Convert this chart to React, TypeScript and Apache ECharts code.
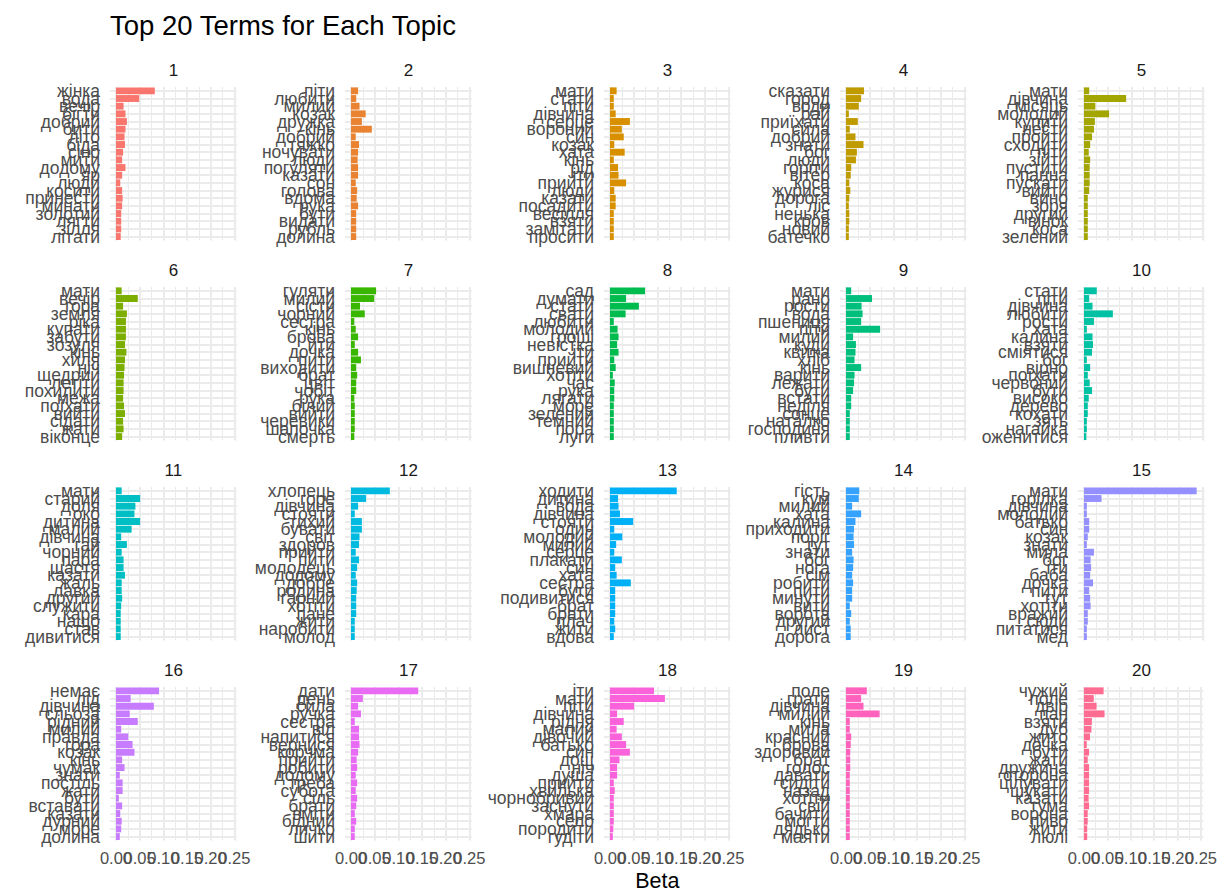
import React, { useEffect, useRef } from "react";
import * as echarts from "echarts";

const TOPICS = ["1","2","3","4","5","6","7","8","9","10","11","12","13","14","15","16","17","18","19","20"];

const TERMS_1 = ["жінка","вода","вечір","бігти","добрий","бити","літо","біда","сіно","мити","додому","яр","люди","косити","принести","минати","золотий","лягти","зілля","літати"];
const BETA_1 = [0.082,0.049,0.016,0.020,0.023,0.020,0.018,0.019,0.015,0.013,0.020,0.013,0.009,0.013,0.014,0.013,0.011,0.011,0.011,0.010];
const TERMS_2 = ["піти","любити","милий","козак","дружка","кінь","добрий","тяжко","ночувати","люди","погуляти","казати","сон","голова","вдома","рука","бути","видати","рубль","долина"];
const BETA_2 = [0.015,0.011,0.018,0.031,0.023,0.044,0.010,0.017,0.015,0.014,0.015,0.015,0.010,0.013,0.012,0.015,0.011,0.011,0.011,0.011];
const TERMS_3 = ["мати","стати","піти","дівчина","серце","вороний","син","козак","хата","кінь","рід","іти","прийти","люди","казати","посадити","весілля","взяти","замітати","просити"];
const BETA_3 = [0.014,0.008,0.008,0.012,0.042,0.025,0.029,0.009,0.031,0.008,0.017,0.018,0.034,0.009,0.012,0.012,0.008,0.008,0.008,0.008];
const TERMS_4 = ["сказати","город","води","рай","приїхати","сила","добрий","знати","бог","люди","горіти","вітер","коса","журися","дорога","ліс","ненька","кров","новий","батечко"];
const BETA_4 = [0.038,0.032,0.027,0.006,0.025,0.008,0.020,0.037,0.023,0.021,0.011,0.010,0.007,0.009,0.007,0.006,0.007,0.007,0.006,0.006];
const TERMS_5 = ["мати","дівчина","місяць","молодий","купити","нести","пройти","сходити","піти","зійти","пустити","панна","пускати","вийти","вино","зоря","другий","вінок","коса","зелений"];
const BETA_5 = [0.011,0.089,0.024,0.053,0.023,0.021,0.017,0.013,0.010,0.013,0.012,0.012,0.012,0.011,0.008,0.008,0.008,0.008,0.008,0.008];
const TERMS_6 = ["мати","вечір","гора","земля","ріка","купати","забути","зозуля","кінь","хиля","ніч","щедрий","летіти","похилити","межа","поїхати","вийти","сідати","жати","віконце"];
const BETA_6 = [0.012,0.046,0.015,0.023,0.021,0.021,0.021,0.019,0.022,0.019,0.018,0.017,0.016,0.016,0.015,0.017,0.019,0.015,0.016,0.013];
const TERMS_7 = ["гуляти","милий","сісти","чорний","сестра","кінь","брова","йти","дочка","пити","виходити","брат","цвіт","чобіт","рука","білий","вийти","черевики","шапочка","смерть"];
const BETA_7 = [0.053,0.049,0.019,0.029,0.007,0.010,0.015,0.008,0.015,0.021,0.011,0.013,0.011,0.011,0.007,0.008,0.008,0.008,0.008,0.007];
const TERMS_8 = ["сад","думати","стати","свати","любити","молодий","гроші","невістка","іти","прийти","вишневий","хотіти","час","рука","лягати","море","зелений","темний","пора","луги"];
const BETA_8 = [0.074,0.034,0.061,0.033,0.008,0.016,0.018,0.015,0.018,0.009,0.012,0.006,0.010,0.009,0.009,0.008,0.008,0.008,0.008,0.008];
const TERMS_9 = ["мати","рано","рости","вода","пшениця","піти","милий","куди","квітка","хліб","кінь","варити","лежати","бути","встати","неділя","сонце","наталко","господиня","пливти"];
const BETA_9 = [0.011,0.055,0.033,0.035,0.032,0.072,0.015,0.021,0.020,0.018,0.032,0.018,0.017,0.015,0.011,0.011,0.008,0.008,0.008,0.008];
const TERMS_10 = ["стати","піти","дівчина","любити","рости","хата","калина","взяти","сміятися","бог","вірно","поїхати","червоний","бути","високо","дерево","кохати","зять","нагайка","оженитися"];
const BETA_10 = [0.027,0.011,0.018,0.061,0.021,0.006,0.018,0.019,0.017,0.006,0.013,0.008,0.012,0.017,0.010,0.008,0.008,0.006,0.006,0.005];
const TERMS_11 = ["мати","старий","доля","око","дитина","малий","дівчина","гай","чорний","пара","щастя","казати","жаль","лавка","другий","служити","кара","нащо","став","дивитися"];
const BETA_11 = [0.012,0.051,0.041,0.039,0.051,0.033,0.011,0.023,0.012,0.016,0.016,0.019,0.012,0.012,0.013,0.011,0.010,0.010,0.010,0.010];
const TERMS_12 = ["хлопець","горе","дівчина","стояти","тихий","бувати","світ","здоров","прийти","пити","молодець","додому","добре","родина","гарний","хотіти","пане","жити","наробити","молод"];
const BETA_12 = [0.082,0.032,0.015,0.008,0.023,0.023,0.018,0.017,0.010,0.017,0.013,0.010,0.013,0.012,0.011,0.011,0.011,0.008,0.008,0.008];
const TERMS_13 = ["ходити","дитина","вода","дівчина","стояти","один","молодий","милий","серце","плакати","син","хата","сестра","бути","подивитися","брат","брати","плач","жити","вдова"];
const BETA_13 = [0.141,0.017,0.018,0.021,0.049,0.009,0.026,0.013,0.009,0.025,0.011,0.014,0.044,0.011,0.011,0.011,0.011,0.009,0.011,0.008];
const TERMS_14 = ["гість","кум","милий","хата","калина","приходити","поріг","тут","знати","бог","нога","сім","робити","пити","минути","вити","ворота","другий","лист","дорога"];
const BETA_14 = [0.028,0.027,0.013,0.032,0.020,0.017,0.016,0.017,0.013,0.016,0.015,0.013,0.015,0.013,0.013,0.008,0.011,0.008,0.010,0.010];
const TERMS_15 = ["мати","горілка","дівчина","молодий","батько","син","козак","знати","мила","бог","іти","баба","дочка","пити","тут","хотіти","вражий","сюди","питатися","мед"];
const BETA_15 = [0.238,0.037,0.006,0.006,0.011,0.011,0.008,0.006,0.021,0.014,0.015,0.013,0.019,0.011,0.013,0.014,0.008,0.008,0.006,0.006];
const TERMS_16 = ["немає","лід","дівчина","сльоза","рідний","милий","правда","гора","козак","кінь","чумак","знати","постіль","жати","бути","вставати","казати","дурний","море","долина"];
const BETA_16 = [0.091,0.031,0.080,0.029,0.046,0.011,0.026,0.035,0.039,0.013,0.018,0.008,0.014,0.014,0.006,0.013,0.009,0.012,0.011,0.008];
const TERMS_17 = ["дати","день","сила","ручка","сестра","віл","напитися","вернися","корчма","прийти","робити","додому","треба","субота","сіль","брати","вміти","бідний","личко","шити"];
const BETA_17 = [0.142,0.025,0.015,0.021,0.008,0.017,0.017,0.018,0.015,0.012,0.013,0.010,0.013,0.010,0.013,0.011,0.008,0.011,0.008,0.008];
const TERMS_18 = ["іти","мати","піти","дівчина","рідня","малий","дівочий","батько","син","дощ","ніч","душа","прийти","хвилька","чорнобривий","заснути","хмара","село","породити","гудіти"];
const BETA_18 = [0.093,0.116,0.051,0.015,0.029,0.014,0.025,0.034,0.042,0.020,0.015,0.015,0.008,0.010,0.008,0.008,0.008,0.008,0.007,0.006];
const TERMS_19 = ["поле","грати","дівчина","милий","кінь","мила","красний","брова","здоровий","брат","голос","давати","сидіти","назад","хотіти","свій","бачити","могти","дядько","маяти"];
const BETA_19 = [0.044,0.032,0.037,0.071,0.008,0.008,0.011,0.010,0.009,0.009,0.009,0.008,0.008,0.008,0.008,0.008,0.008,0.008,0.008,0.008];
const TERMS_20 = ["чужий","поле","двір","пан","взяти","дуб","жито","дочка","бути","жати","дружина","сторона","цілувати","шукати","казати","тума","ворона","пиво","жити","люлі"];
const BETA_20 = [0.042,0.021,0.027,0.044,0.017,0.016,0.013,0.006,0.011,0.008,0.011,0.011,0.011,0.011,0.010,0.011,0.008,0.008,0.007,0.007];

const COLORS = ["#F8766D","#EA8331","#D89000","#C09B00","#A3A500","#7CAE00","#39B600","#00BB4E","#00BF7D","#00C1A3","#00BFC4","#00BAE0","#00B0F6","#35A2FF","#9590FF","#C77CFF","#E76BF3","#FA62DB","#FF62BC","#FF6C91"];

const TERMS = [TERMS_1,TERMS_2,TERMS_3,TERMS_4,TERMS_5,TERMS_6,TERMS_7,TERMS_8,TERMS_9,TERMS_10,TERMS_11,TERMS_12,TERMS_13,TERMS_14,TERMS_15,TERMS_16,TERMS_17,TERMS_18,TERMS_19,TERMS_20];
const BETAS = [BETA_1,BETA_2,BETA_3,BETA_4,BETA_5,BETA_6,BETA_7,BETA_8,BETA_9,BETA_10,BETA_11,BETA_12,BETA_13,BETA_14,BETA_15,BETA_16,BETA_17,BETA_18,BETA_19,BETA_20];

const FONT = '"Liberation Sans", Arial, sans-serif';
const GRID_COLOR = "#EBEBEB";
const T = "rgba(0,0,0,0)";

const COL_ZERO = [116, 351, 610, 846, 1084];
const ROW_TOP = [87, 287, 487, 687];
const PANEL_H = 153.4;
const PX_PER_UNIT = 473.3;
const X_MIN = -0.0125;
const X_MAX = 0.255;
const X_STEP = 0.0125;

function tickFormatter(v: number) {
  const k = v / 0.05;
  if (v > -1e-9 && Math.abs(k - Math.round(k)) < 1e-6) return v.toFixed(2);
  return "";
}

function buildOption() {
  const grid: any[] = [];
  const xAxis: any[] = [];
  const yAxis: any[] = [];
  const series: any[] = [];
  const graphic: any[] = [];
  const width = (X_MAX - X_MIN) * PX_PER_UNIT;

  for (let i = 0; i < 20; i++) {
    const r = Math.floor(i / 5);
    const c = i % 5;
    const left = COL_ZERO[c] + X_MIN * PX_PER_UNIT;
    grid.push({ left, top: ROW_TOP[r], width, height: PANEL_H, containLabel: false });
    xAxis.push({
      type: "value", gridIndex: i, min: X_MIN, max: X_MAX, interval: X_STEP,
      axisLine: { show: false }, axisTick: { show: false },
      splitLine: { show: true, lineStyle: { color: [T, GRID_COLOR, T, T], width: 2 } },
      axisLabel: { show: r === 3, formatter: tickFormatter, fontSize: 16.5, color: "#4D4D4D", fontFamily: FONT, margin: 9, hideOverlap: false },
    });
    xAxis.push({
      type: "value", gridIndex: i, min: X_MIN, max: X_MAX, interval: X_STEP, position: "bottom",
      axisLine: { show: false }, axisTick: { show: false }, axisLabel: { show: false },
      splitLine: { show: true, lineStyle: { color: [T, T, T, GRID_COLOR], width: 1 } },
    });
    yAxis.push({
      type: "category", gridIndex: i, data: TERMS[i], inverse: true,
      axisLine: { show: false }, axisTick: { show: false },
      axisLabel: { interval: 0, fontSize: 17.5, color: "#4D4D4D", fontFamily: FONT, margin: 10, hideOverlap: false },
      splitLine: { show: true, interval: 0, alignWithLabel: true, lineStyle: { color: GRID_COLOR, width: 2 } },
    });
    series.push({
      type: "bar", xAxisIndex: 2 * i, yAxisIndex: i, data: BETAS[i], barWidth: "90%",
      itemStyle: { color: COLORS[i] }, silent: true,
    });
    graphic.push({
      type: "text", x: COL_ZERO[c] + ((X_MIN + X_MAX) / 2) * PX_PER_UNIT, y: ROW_TOP[r] - 17,
      style: { text: TOPICS[i], fontSize: 17, fontFamily: FONT, fill: "#1A1A1A", textAlign: "center", textVerticalAlign: "middle" },
    });
  }
  graphic.push({
    type: "text", x: 110, y: 25,
    style: { text: "Top 20 Terms for Each Topic", fontSize: 27.5, fontFamily: FONT, fill: "#000000", textAlign: "left", textVerticalAlign: "middle" },
  });
  graphic.push({
    type: "text", x: (COL_ZERO[0] + X_MIN * PX_PER_UNIT + COL_ZERO[4] + X_MAX * PX_PER_UNIT) / 2, y: 881,
    style: { text: "Beta", fontSize: 21.5, fontFamily: FONT, fill: "#000000", textAlign: "center", textVerticalAlign: "middle" },
  });

  return { animation: false, backgroundColor: "#FFFFFF", grid, xAxis, yAxis, series, graphic };
}

export default function App() {
  const ref = useRef<HTMLDivElement>(null);
  useEffect(() => {
    if (!ref.current) return;
    const chart = echarts.init(ref.current, null, { renderer: "svg" });
    chart.setOption(buildOption() as any);
    return () => chart.dispose();
  }, []);
  return <div ref={ref} style={{ position: "fixed", left: 0, top: 0, width: 1220, height: 892 }} />;
}
